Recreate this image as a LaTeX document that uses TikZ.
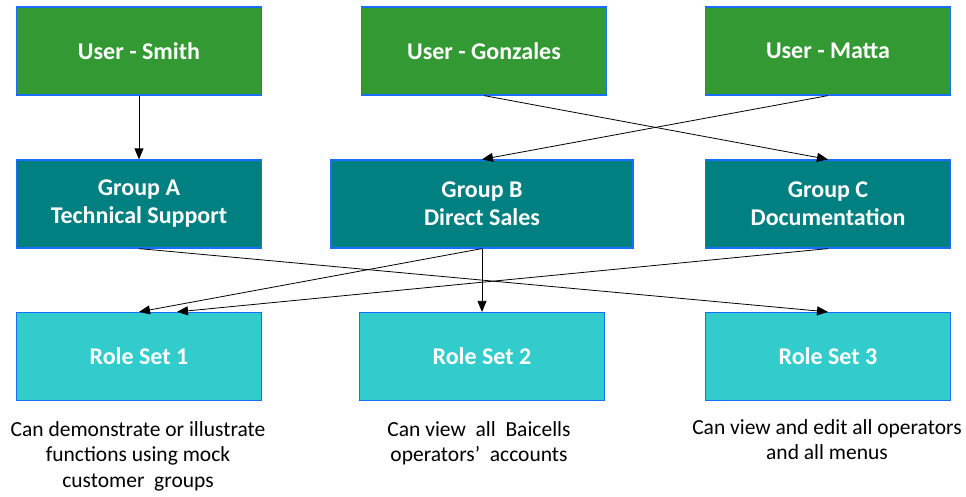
\documentclass[tikz,border=0pt]{standalone}
\usepackage{fontspec}
\setmainfont{Carlito}
\usetikzlibrary{arrows.meta}
\definecolor{usergreen}{HTML}{339933}
\definecolor{groupteal}{HTML}{008080}
\definecolor{rolecyan}{HTML}{33CCCC}
\definecolor{edgeblue}{HTML}{1A6EFF}
\tikzset{
  box/.style={draw=edgeblue,line width=1.2pt,text=white,align=center,
    minimum width=245pt,minimum height=88pt,inner sep=0pt,
    font=\fontsize{24}{28}\selectfont\bfseries},
  userbox/.style={box,fill=usergreen},
  groupbox/.style={box,fill=groupteal},
  rolebox/.style={box,fill=rolecyan},
  note/.style={align=center,anchor=north,font=\fontsize{21.5}{25.5}\selectfont},
  link/.style={-{Triangle[length=11pt,width=9pt]},line width=0.8pt}
}
\begin{document}
\begin{tikzpicture}[x=1pt,y=-1pt]
\useasboundingbox (0,0) rectangle (966,497);
\node[userbox] (S) at (139,51) {User - Smith};
\node[userbox] (G) at (484,51) {User - Gonzales};
\node[userbox] (M) at (828,51) {User - Matta};
\node[groupbox] (A) at (139,204) {Group A\\Technical Support};
\node[groupbox,minimum width=302pt] (B) at (482,204) {Group B\\Direct Sales};
\node[groupbox] (C) at (828,204) {Group C\\Documentation};
\node[rolebox] (R1) at (139,356.5) {Role Set 1};
\node[rolebox] (R2) at (482,356.5) {Role Set 2};
\node[rolebox] (R3) at (828,356.5) {Role Set 3};
\node[note] (N1) at (138,418) {Can demonstrate or illustrate\\functions using mock\\customer~ groups};
\node[note] (N2) at (479,418) {Can view~ all~ Baicells\\operators’~ accounts};
\node[note] (N3) at (827,416) {Can view and edit all operators\\and all menus};
\draw[link] (S.south) -- (A.north);
\draw[link] (G.south) -- (C.north);
\draw[link] (M.south) -- (B.north);
\draw[link] (A.south) -- (R3.north);
\draw[link] (B.south) -- (R1.north);
\draw[link] (B.south) -- (R2.north);
\draw[link] (C.south) -- ([xshift=38pt]R1.north);
\end{tikzpicture}
\end{document}
